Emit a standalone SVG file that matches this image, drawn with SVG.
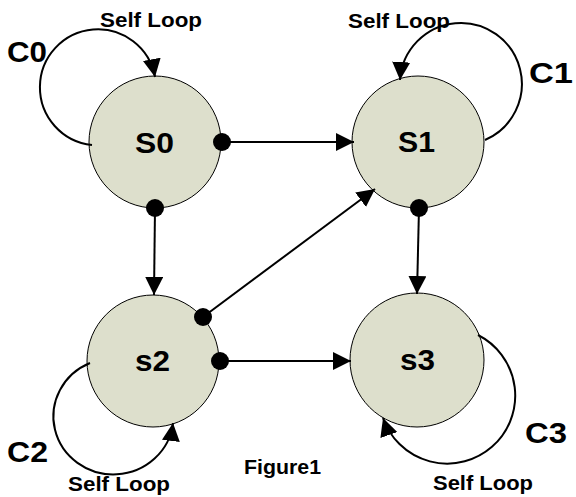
<svg xmlns="http://www.w3.org/2000/svg" width="576" height="497" viewBox="0 0 576 497">
  <style>
    .state { fill: #dddfcc; stroke: #000; stroke-width: 1; }
    .lbl { font-family: "Liberation Sans", Arial, sans-serif; font-weight: bold; fill: #000; }
    .big { font-size: 30px; }
    .cap { font-size: 29px; }
    .small { font-size: 20px; }
    .edge { fill: none; stroke: #000; stroke-width: 2; }
    .dot { fill: #000; }
  </style>
  <defs>
    <marker id="arrow" viewBox="0 0 18 18" refX="18" refY="9" markerWidth="18" markerHeight="18" markerUnits="userSpaceOnUse" orient="auto">
      <path d="M0,0 L18,9 L0,18 z" fill="#000"/>
    </marker>
  </defs>

  <!-- states -->
  <g id="S0">
    <circle class="state" cx="155" cy="142" r="66"/>
    <text class="lbl big" x="135" y="152.5" textLength="39" lengthAdjust="spacingAndGlyphs">S0</text>
  </g>
  <g id="S1">
    <circle class="state" cx="418" cy="142" r="66"/>
    <text class="lbl big" x="398" y="152" textLength="37" lengthAdjust="spacingAndGlyphs">S1</text>
  </g>
  <g id="s2">
    <circle class="state" cx="153" cy="361" r="66"/>
    <text class="lbl big" x="135" y="371" textLength="35" lengthAdjust="spacingAndGlyphs">s2</text>
  </g>
  <g id="s3">
    <circle class="state" cx="417" cy="360" r="67"/>
    <text class="lbl big" x="400" y="370" textLength="35" lengthAdjust="spacingAndGlyphs">s3</text>
  </g>

  <!-- transitions and self loops -->
  <g id="connectors">
    <path class="edge" d="M222,142 L354,142" marker-end="url(#arrow)"/>
    <path class="edge" d="M155,208 L154,295" marker-end="url(#arrow)"/>
    <path class="edge" d="M419,208 L417,294" marker-end="url(#arrow)"/>
    <path class="edge" d="M220,361 L351,361" marker-end="url(#arrow)"/>
    <path class="edge" d="M203,317 L375,189" marker-end="url(#arrow)"/>

    <path class="edge" d="M92,145 A58,58 0 1,1 155,77" marker-end="url(#arrow)"/>
    <path class="edge" d="M485,140 A61,61 0 1,0 400,80" marker-end="url(#arrow)"/>
    <path class="edge" d="M90,363 A60,58 0 1,0 173,423" marker-end="url(#arrow)"/>
    <path class="edge" d="M478,335 A68,68 0 1,1 383,418" marker-end="url(#arrow)"/>

    <circle class="dot" cx="222" cy="142" r="9"/>
    <circle class="dot" cx="155" cy="208" r="9"/>
    <circle class="dot" cx="419" cy="208" r="9"/>
    <circle class="dot" cx="203" cy="317" r="9"/>
    <circle class="dot" cx="220" cy="361" r="9"/>
  </g>

  <!-- loop labels -->
  <g id="labels">
    <text class="lbl small" x="100" y="27" textLength="102" lengthAdjust="spacingAndGlyphs">Self Loop</text>
    <text class="lbl cap" x="7" y="62" textLength="40" lengthAdjust="spacingAndGlyphs">C0</text>
    <text class="lbl small" x="348" y="28" textLength="102" lengthAdjust="spacingAndGlyphs">Self Loop</text>
    <text class="lbl cap" x="529" y="83" textLength="44" lengthAdjust="spacingAndGlyphs">C1</text>
    <text class="lbl cap" x="7" y="462" textLength="41" lengthAdjust="spacingAndGlyphs">C2</text>
    <text class="lbl small" x="68" y="491" textLength="102" lengthAdjust="spacingAndGlyphs">Self Loop</text>
    <text class="lbl small" x="244" y="474" textLength="77" lengthAdjust="spacingAndGlyphs">Figure1</text>
    <text class="lbl cap" x="525" y="443" textLength="42" lengthAdjust="spacingAndGlyphs">C3</text>
    <text class="lbl small" x="433" y="490" textLength="100" lengthAdjust="spacingAndGlyphs">Self Loop</text>
  </g>
</svg>
